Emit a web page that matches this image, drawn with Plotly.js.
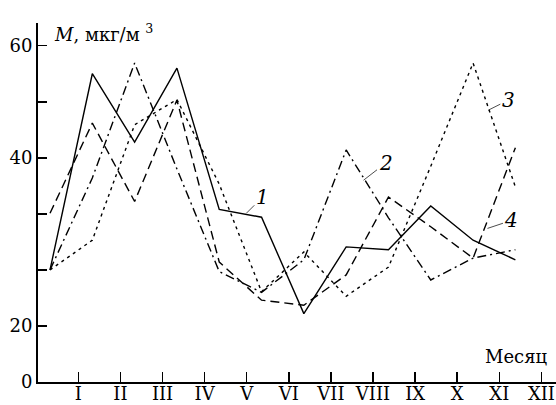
<!DOCTYPE html>
<html>
<head>
<meta charset="utf-8">
<script src="https://cdn.plot.ly/plotly-3.0.1.min.js"></script>
<style>html,body{margin:0;padding:0;background:#fff;}#chart{width:556px;height:405px;}</style>
</head>
<body>
<div id="chart"></div>
<script>
// Month index of each measurement (data points)
const monthIndex = [1, 2, 3, 4, 5, 6, 7, 8, 9, 10, 11, 12];
// Roman month tick labels
const monthLabels = ["I", "II", "III", "IV", "V", "VI", "VII", "VIII", "IX", "X", "XI", "XII"];
// Series values (as plotted on the axis scale)
const series1 = [20.0, 55.0, 42.8, 56.0, 30.8, 29.4, 12.2, 24.1, 23.6, 31.4, 25.3, 21.8];
const series2 = [20.0, 36.4, 56.9, 38.0, 19.7, 16.0, 21.8, 41.4, 29.3, 18.2, 22.1, 23.6];
const series3 = [20.0, 25.3, 45.9, 50.4, 35.3, 16.1, 23.2, 15.3, 20.5, 38.5, 56.9, 34.8];
const series4 = [30.1, 46.2, 32.2, 50.3, 21.4, 14.6, 13.7, 19.1, 33.0, 27.7, 22.1, 41.8];
// Y axis labelled tick positions and their printed labels, plus unlabelled ticks
const yTickVals = [0, 10, 40, 60];
const yTickText = ["0", "20", "40", "60"];
const yMinorVals = [20, 30, 50];

const tickOffset = 0.67;
const xTickVals = monthIndex.map(m => m + tickOffset - 0.005 * (m - 1));

const FONT = "DejaVu Serif";
const lw = 1.4;
const mk = (y, dash, name) => ({
  x: monthIndex, y: y, type: "scatter", mode: "lines", name: name,
  line: {color: "#000", width: lw, dash: dash}, hoverinfo: "skip"
});

const traces = [
  mk(series1, "solid", "1"),
  mk(series2, "9px,4px,2px,4px", "2"),
  mk(series3, "3px,4px", "3"),
  mk(series4, "9px,5px", "4")
];

const lab = (x, y, text, ax, ay) => ({
  x: x, y: y, xref: "x", yref: "y", text: "<i>" + text + "</i>",
  showarrow: true, arrowhead: 0, arrowwidth: 0.7, arrowcolor: "#000",
  ax: ax, ay: ay, standoff: 0, font: {family: FONT, size: 20, color: "#000"}
});

const layout = {
  width: 556, height: 405,
  margin: {l: 38, r: 0, t: 23, b: 23},
  paper_bgcolor: "#fff", plot_bgcolor: "#fff",
  showlegend: false,
  font: {family: FONT, size: 18, color: "#000"},
  xaxis: {
    range: [0.716, 12.96], showgrid: false, zeroline: false,
    showline: true, linecolor: "#000", linewidth: 2,
    tickmode: "array", tickvals: xTickVals, ticktext: monthLabels,
    ticks: "inside", ticklen: 10, tickwidth: 1.5, tickcolor: "#000",
    ticklabelstandoff: -6, ticklabeloverflow: "allow",
    tickfont: {family: FONT, size: 18, color: "#000"}
  },
  yaxis: {
    range: [0, 64.05], showgrid: false, zeroline: false,
    showline: true, linecolor: "#000", linewidth: 2,
    tickmode: "array", tickvals: yTickVals, ticktext: yTickText,
    ticks: "inside", ticklen: 9, tickwidth: 1.5, tickcolor: "#000",
    tickfont: {family: FONT, size: 18, color: "#000"},
    minor: {tickmode: "array", tickvals: yMinorVals, ticks: "inside", ticklen: 9,
            tickwidth: 1.5, tickcolor: "#000", showgrid: false}
  },
  annotations: [
    {xref: "paper", yref: "paper", x: 0.027, y: 0.972, xanchor: "left", yanchor: "middle",
     text: "<i>M</i>, мкг/м <sup>3</sup>", showarrow: false,
     font: {family: FONT, size: 18, color: "#000"}},
    {xref: "paper", yref: "paper", x: 0.988, y: 0.07, xanchor: "right", yanchor: "middle",
     text: "Месяц", showarrow: false, font: {family: FONT, size: 18, color: "#000"}},
    lab(5.64, 30.1, "1", 16, -16),
    lab(8.41, 36.0, "2", 22, -17),
    lab(11.36, 48.5, "3", 20, -10),
    lab(11.34, 27.4, "4", 24, -8)
  ]
};

Plotly.newPlot("chart", traces, layout, {staticPlot: true, displayModeBar: false});
</script>
</body>
</html>
